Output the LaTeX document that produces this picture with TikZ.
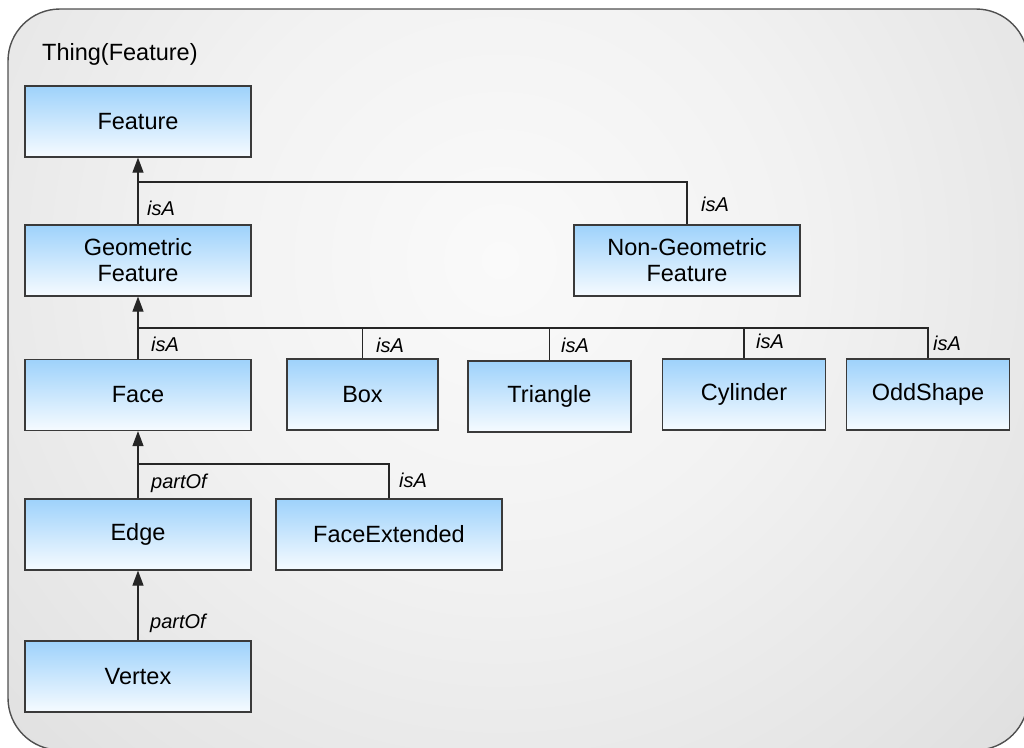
\documentclass[tikz,border=0pt]{standalone}
\usepackage{fontspec}
\setmainfont{Liberation Sans}
\usetikzlibrary{arrows.meta}

\definecolor{linegray}{HTML}{262626}
\definecolor{boxline}{HTML}{3A3A3A}
\definecolor{boxtop}{HTML}{9ED2FB}
\definecolor{boxbot}{HTML}{F6FBFF}
\definecolor{framegray}{HTML}{505050}
\definecolor{bgA}{HTML}{FAFAFA}
\definecolor{bgB}{HTML}{F2F2F2}
\definecolor{bgC}{HTML}{E5E5E5}
\definecolor{bgD}{HTML}{D6D6D6}
\definecolor{bgE}{HTML}{CBCBCB}
\definecolor{bgF}{HTML}{C6C6C6}

% soft grey backdrop, lightest towards the upper middle
\pgfdeclareradialshading{backdrop}{\pgfpointorigin}{%
  color(0bp)=(bgA); color(10.4bp)=(bgB); color(20.8bp)=(bgC);
  color(31.2bp)=(bgD); color(41.7bp)=(bgE); color(50bp)=(bgF)}

\tikzset{
  cls/.style={draw=boxline, line width=1.2pt, top color=boxtop, bottom color=boxbot,
    minimum width=226pt, minimum height=71pt, inner sep=0pt, align=center,
    font=\fontsize{23.5}{26}\selectfont},
  rel/.style={font=\fontsize{20}{24}\selectfont\itshape, inner sep=0pt, anchor=base west},
  link/.style={draw=linegray, line width=1.2pt},
  inherit/.style={link, -{Triangle[length=15pt,width=11pt]}},
}

\begin{document}
\begin{tikzpicture}[x=1pt,y=-1pt]
\useasboundingbox (0,0) rectangle (1024,747);

% container
\begin{scope}
  \clip[rounded corners=52pt] (8,9) rectangle (1028,750);
  \shade[shading=backdrop] (500,260) circle (720pt);
\end{scope}
\draw[framegray, line width=1.4pt, rounded corners=52pt] (8,9) rectangle (1028,750);
\node[font=\fontsize{23.5}{26}\selectfont, inner sep=0pt, anchor=base west] (title) at (42,60) {Thing(Feature)};

% classes
\node[cls] (feature) at (138,121.5) {Feature};
\node[cls] (geo) at (138,260.5) {Geometric\\Feature};
\node[cls] (nongeo) at (687,260.5) {Non-Geometric\\Feature};
\node[cls] (face) at (138,395) {Face};
\node[cls, minimum width=151pt] (box) at (362.5,394.5) {Box};
\node[cls, minimum width=163pt] (tri) at (549.5,396.5) {Triangle};
\node[cls, minimum width=163pt] (cyl) at (744,394.5) {Cylinder};
\node[cls, minimum width=163pt] (odd) at (928,394.5) {OddShape};
\node[cls] (edge) at (138,534.5) {Edge};
\node[cls] (faceext) at (389,534.5) {FaceExtended};
\node[cls] (vertex) at (138,676.5) {Vertex};

% junctions on the vertical stems
\coordinate (j1) at (138,182);
\coordinate (j2) at (138,328);
\coordinate (j3) at (138,464);

% relations
\draw[inherit] (geo.north) -- (feature.south);
\draw[link] (nongeo.north) |- (j1);
\draw[inherit] (face.north) -- (geo.south);
\draw[link] (box.north) |- (j2);
\draw[link] (tri.north) |- (j2);
\draw[link] (cyl.north) |- (j2);
\draw[link] (odd.north) |- (j2);
\draw[inherit] (edge.north) -- (face.south);
\draw[link] (faceext.north) |- (j3);
\draw[inherit] (vertex.north) -- (edge.south);

% relation labels
\node[rel] (l1) at (147,215) {isA};
\node[rel] (l2) at (701,211) {isA};
\node[rel] (l3) at (151,351) {isA};
\node[rel] (l4) at (376,352) {isA};
\node[rel] (l5) at (561,352) {isA};
\node[rel] (l6) at (756,348) {isA};
\node[rel] (l7) at (933,350) {isA};
\node[rel] (l8) at (151,488) {partOf};
\node[rel] (l9) at (399,487) {isA};
\node[rel] (l10) at (150,628) {partOf};
\end{tikzpicture}
\end{document}
